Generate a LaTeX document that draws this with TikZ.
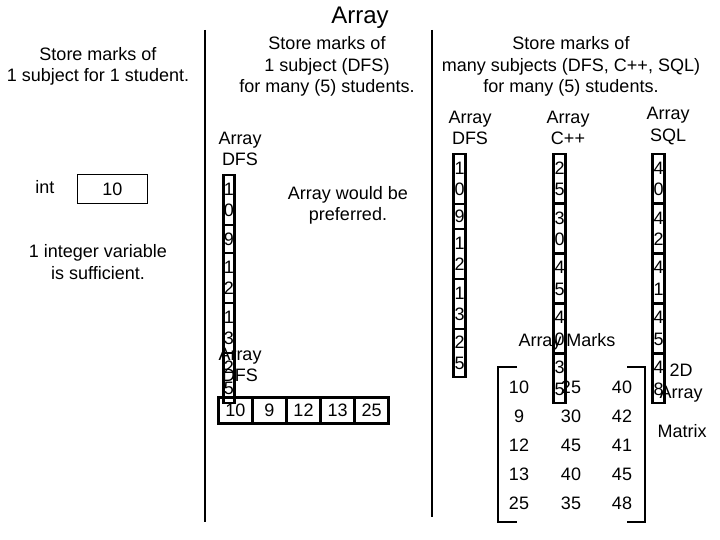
\documentclass[tikz,border=0pt]{standalone}
\usepackage{fontspec}
\setmainfont{Liberation Sans}
\usetikzlibrary{positioning}
\newcommand{\bodyfont}{\fontsize{18}{21.6}\selectfont}
\tikzset{
  every node/.append style={inner sep=0pt, outer sep=0pt, font=\bodyfont},
  txt/.style={align=center},
  heading/.style={font=\fontsize{24}{28}\selectfont},
  divider/.style={line width=1.1pt},
  vcell/.style={draw, line width=2.6pt, align=left, minimum width=11.5pt},
  hcell/.style={draw, line width=2.6pt, minimum width=34.1pt, minimum height=26.5pt},
  varbox/.style={draw, line width=1pt, minimum width=70pt, minimum height=29pt},
  brak/.style={line width=1.3pt},
}
\begin{document}
\begin{tikzpicture}[x=1pt, y=-1pt]
  \useasboundingbox (0,0) rectangle (720,540);
  \node[heading] (title) at (360,18) {Array};
  % column dividers
  \draw[divider] (205,30) -- (205,522);
  \draw[divider] (432,30) -- (432,517);

  % one subject, one student
  \node[txt] (onehead) at (98,66.5) {Store marks of\\1 subject for 1 student.};
  \node (inttype) at (45,187) {int};
  \node[varbox] (intvar) at (112.5,189) {10};
  \node[txt] (onenote) at (98,262) {1 integer variable\\is sufficient.};

  % one subject, five students
  \node[txt] (dfshead) at (327,66.5) {Store marks of\\1 subject (DFS)\\for many (5) students.};
  \node[txt] (dfsname) at (240,149) {Array\\DFS};
  \node[vcell, minimum height=50pt, anchor=north] (dfs1) at (229,175) {1\\0};
  \node[vcell, minimum height=28pt, below=0pt of dfs1] (dfs2) {9};
  \node[vcell, minimum height=50pt, below=0pt of dfs2] (dfs3) {1\\2};
  \node[vcell, minimum height=50pt, below=0pt of dfs3] (dfs4) {1\\3};
  \node[vcell, minimum height=50pt, below=0pt of dfs4] (dfs5) {2\\5};
  \node[txt] (dfsname2) at (240,365) {Array\\DFS};
  \node[hcell] (row1) at (235.3,410.5) {10};
  \node[hcell, right=0pt of row1] (row2) {9};
  \node[hcell, right=0pt of row2] (row3) {12};
  \node[hcell, right=0pt of row3] (row4) {13};
  \node[hcell, right=0pt of row4] (row5) {25};
  \node[txt] (prefer) at (348,205.5) {Array would be\\preferred.};

  % many subjects, five students
  \node[txt] (manyhead) at (571,66.5) {Store marks of\\many subjects (DFS, C++, SQL)\\for many (5) students.};
  \node[txt] (dfsname3) at (470,128) {Array\\DFS};
  \node[txt] (cppname) at (568,128) {Array\\C++};
  \node[txt] (sqlname) at (668,126) {Array\\SQL};
  \node[vcell, minimum height=50pt, anchor=north] (dfsb1) at (459.5,154) {1\\0};
  \node[vcell, minimum height=25pt, below=0pt of dfsb1] (dfsb2) {9};
  \node[vcell, minimum height=50pt, below=0pt of dfsb2] (dfsb3) {1\\2};
  \node[vcell, minimum height=50pt, below=0pt of dfsb3] (dfsb4) {1\\3};
  \node[vcell, minimum height=48pt, below=0pt of dfsb4] (dfsb5) {2\\5};
  \node[vcell, minimum height=49.8pt, anchor=north] (cpp1) at (559.5,154) {2\\5};
  \node[vcell, minimum height=49.8pt, below=0pt of cpp1] (cpp2) {3\\0};
  \node[vcell, minimum height=49.8pt, below=0pt of cpp2] (cpp3) {4\\5};
  \node[vcell, minimum height=49.8pt, below=0pt of cpp3] (cpp4) {4\\0};
  \node[vcell, minimum height=49.8pt, below=0pt of cpp4] (cpp5) {3\\5};
  \node[vcell, minimum height=49.8pt, anchor=north] (sql1) at (658.5,154) {4\\0};
  \node[vcell, minimum height=49.8pt, below=0pt of sql1] (sql2) {4\\2};
  \node[vcell, minimum height=49.8pt, below=0pt of sql2] (sql3) {4\\1};
  \node[vcell, minimum height=49.8pt, below=0pt of sql3] (sql4) {4\\5};
  \node[vcell, minimum height=49.8pt, below=0pt of sql4] (sql5) {4\\8};
  \node (marks) at (567,342) {Array Marks};

  % matrix of marks
  \draw[brak] (517,367) -- (498,367) -- (498,522) -- (517,522);
  \draw[brak] (627,367) -- (645,367) -- (645,522) -- (627,522);
  \foreach \a/\b/\c [count=\r] in {10/25/40, 9/30/42, 12/45/41, 13/40/45, 25/35/48} {
    \node (mat\r-1) at (519,{358+29*\r}) {\a};
    \node (mat\r-2) at (571,{358+29*\r}) {\b};
    \node (mat\r-3) at (622,{358+29*\r}) {\c};
  }
  \node[txt] (twod) at (681,383) {2D\\Array};
  \node (matname) at (682,431) {Matrix};
\end{tikzpicture}
\end{document}
